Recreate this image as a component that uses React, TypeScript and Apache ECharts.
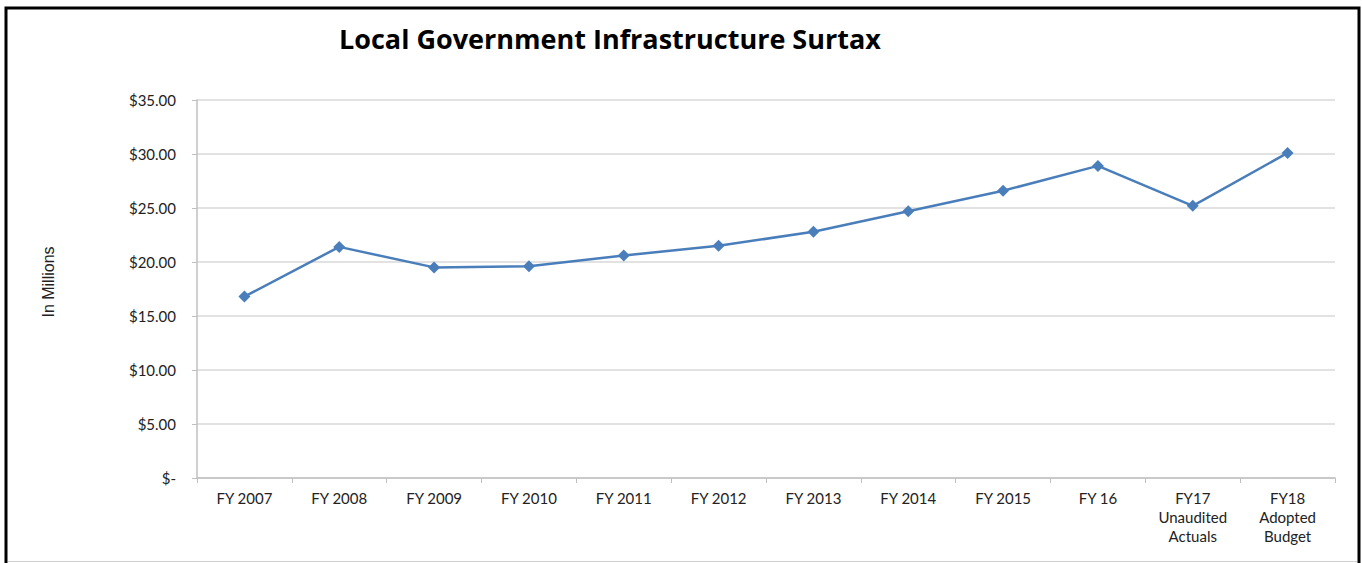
import React, { useEffect, useRef } from "react";
import * as echarts from "echarts";

const categories = [
  "FY 2007",
  "FY 2008",
  "FY 2009",
  "FY 2010",
  "FY 2011",
  "FY 2012",
  "FY 2013",
  "FY 2014",
  "FY 2015",
  "FY 16",
  "FY17\nUnaudited\nActuals",
  "FY18\nAdopted\nBudget",
];

const surtaxValues = [16.8, 21.4, 19.5, 19.6, 20.6, 21.5, 22.8, 24.7, 26.6, 28.9, 25.2, 30.1];

const titleText = "Local Government Infrastructure Surtax";
const yAxisName = "In Millions";

export default function App() {
  const ref = useRef<HTMLDivElement>(null);

  useEffect(() => {
    if (!ref.current) return;
    const chart = echarts.init(ref.current, null, { renderer: "svg" });
    const font = "Lato, 'Open Sans', sans-serif";
    chart.setOption({
      animation: false,
      backgroundColor: "#ffffff",
      title: {
        text: titleText,
        left: 334,
        top: 20,
        textStyle: { fontFamily: "'Open Sans', sans-serif", fontSize: 27, fontWeight: "bold", color: "#000000" },
      },
      grid: { left: 197, right: 27, top: 100, bottom: 85 },
      xAxis: {
        type: "category",
        data: categories,
        boundaryGap: true,
        axisLine: { show: true, lineStyle: { color: "#c0c0c0", width: 1.5 } },
        axisTick: { show: true, alignWithLabel: false, length: 5, lineStyle: { color: "#c0c0c0" } },
        axisLabel: {
          interval: 0,
          margin: 10,
          fontFamily: font,
          fontSize: 15,
          color: "#222222",
          lineHeight: 19,
        },
      },
      yAxis: {
        type: "value",
        min: 0,
        max: 35,
        interval: 5,
        axisLine: { show: true, lineStyle: { color: "#c0c0c0", width: 1.5 } },
        axisTick: { show: true, length: 5, lineStyle: { color: "#c0c0c0" } },
        splitLine: { show: true, lineStyle: { color: "#d9d9d9", width: 1.5 } },
        axisLabel: {
          margin: 21,
          fontFamily: font,
          fontSize: 15,
          color: "#222222",
          formatter: (v: number) => (v === 0 ? "$-" : "$" + v.toFixed(2)),
        },
      },
      series: [
        {
          type: "line",
          data: surtaxValues,
          symbol: "diamond",
          symbolSize: 12,
          lineStyle: { color: "#4a7ebb", width: 2.5 },
          itemStyle: { color: "#4a7ebb" },
        },
      ],
      graphic: [
        {
          type: "text",
          x: 48,
          y: 282,
          rotation: Math.PI / 2,
          style: {
            text: yAxisName,
            fontFamily: "'Liberation Sans', Arial, sans-serif",
            fontSize: 16,
            fill: "#222222",
            align: "center",
            verticalAlign: "middle",
          },
          silent: true,
        },
        {
          type: "rect",
          shape: { x: 6, y: 8, width: 1353, height: 570 },
          style: { fill: "none", stroke: "#000000", lineWidth: 3 },
          silent: true,
        },
        {
          type: "line",
          shape: { x1: 8, y1: 561.5, x2: 1357, y2: 561.5 },
          style: { stroke: "#d0d0d0", lineWidth: 1 },
          silent: true,
        },
      ],
    });
    return () => chart.dispose();
  }, []);

  return (
    <div
      ref={ref}
      style={{ position: "fixed", left: 0, top: 0, width: 1362, height: 563 }}
    />
  );
}
